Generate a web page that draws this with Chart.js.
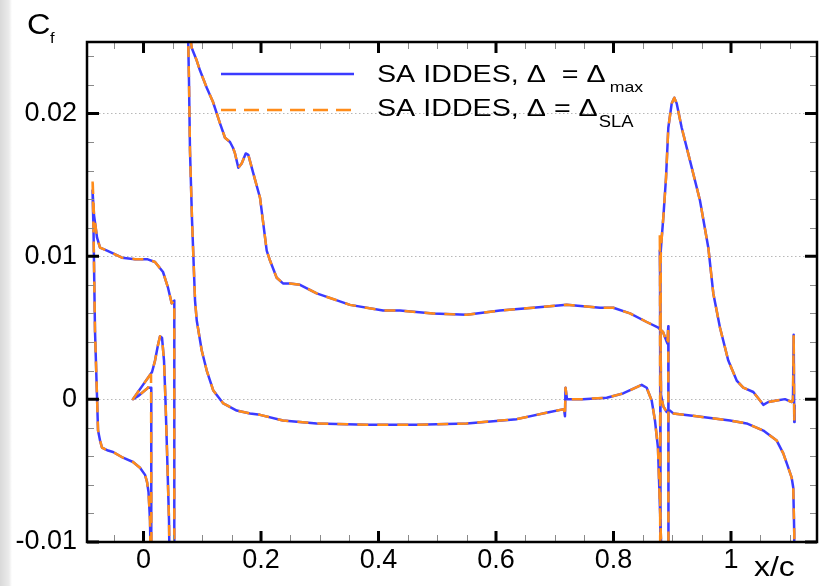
<!DOCTYPE html>
<html>
<head>
<meta charset="utf-8">
<script src="https://cdn.jsdelivr.net/npm/chart.js@4.4.1/dist/chart.umd.min.js"></script>
<style>
    html, body { margin: 0; padding: 0; }
    body { width: 819px; height: 586px; background: linear-gradient(to right, #d9d9d9 0px, #ebebeb 9px, #ffffff 12px); }
    canvas { display: block; }
</style>
</head>
<body>
<canvas id="chart-cf" width="819" height="586"></canvas>
<script>
// axis ticks
const xTicks = [0, 0.2, 0.4, 0.6, 0.8, 1]
const xTickLabels = ['0', '0.2', '0.4', '0.6', '0.8', '1']
const yTicks = [-0.01, 0, 0.01, 0.02]
const yTickLabels = ['-0.01', '0', '0.01', '0.02']
const xMinor = [-0.05, 0.05, 0.1, 0.15, 0.25, 0.3, 0.35, 0.45, 0.5, 0.55, 0.65, 0.7, 0.75, 0.85, 0.9, 0.95, 1.05, 1.1]
const yMinor = [-0.008, -0.006, -0.004, -0.002, 0.002, 0.004, 0.006, 0.008, 0.012, 0.014, 0.016, 0.018, 0.022, 0.024]

// slat: TE -> upper -> LE -> lower -> cove
const slatX = [0.0524, 0.0524, 0.0480, 0.0417, 0.0332, 0.0196, 0.0060, -0.0145, -0.0366, -0.0519,
    -0.0621, -0.0740, -0.0791, -0.0843, -0.0868, -0.0851, -0.0826, -0.0800, -0.0774, -0.0740,
    -0.0706, -0.0604, -0.0519, -0.0349, -0.0179, -0.0060, 0.0026, 0.0060, 0.0085, 0.0111,
    0.0128, 0.0136, 0.0128, 0.0077, -0.0009, -0.0094, -0.0179, -0.0094, -0.0009, 0.0077,
    0.0145, 0.0196, 0.0247, 0.0281, 0.0315, 0.0349, 0.0374, 0.0400, 0.0434, 0.0451]
const slatCfMax = [-0.0140, 0.0069, 0.0067, 0.0078, 0.0089, 0.0096, 0.0098, 0.0098, 0.0099, 0.0102,
    0.0104, 0.0106, 0.0113, 0.0129, 0.0146, 0.0118, 0.0048, 0.0013, -0.0022, -0.0029,
    -0.0034, -0.0036, -0.0037, -0.0041, -0.0044, -0.0048, -0.0053, -0.0058, -0.0065, -0.0085,
    -0.0140, -0.0140, 0.0008, 0.0008, 0.0005, 0.0002, 0.0000, 0.0005, 0.0010, 0.0015,
    0.0019, 0.0027, 0.0038, 0.0044, 0.0043, 0.0027, -0.0001, -0.0036, -0.0085, -0.0140]
const slatCfSla = [-0.0140, 0.0069, 0.0067, 0.0078, 0.0089, 0.0096, 0.0098, 0.0098, 0.0099, 0.0102,
    0.0104, 0.0106, 0.0113, 0.0129, 0.0155, 0.0118, 0.0048, 0.0013, -0.0022, -0.0029,
    -0.0034, -0.0036, -0.0037, -0.0041, -0.0044, -0.0048, -0.0053, -0.0058, -0.0065, -0.0085,
    -0.0140, -0.0140, 0.0017, 0.0008, 0.0005, 0.0002, 0.0000, 0.0005, 0.0010, 0.0015,
    0.0019, 0.0027, 0.0038, 0.0044, 0.0043, 0.0027, -0.0001, -0.0036, -0.0085, -0.0140]

// main element: lower (TE -> LE) then upper (LE -> TE)
const mainX = [0.8826, 0.8809, 0.8757, 0.8706, 0.8650, 0.8565, 0.8480, 0.8162, 0.7884, 0.7481,
    0.7209, 0.7183, 0.7174, 0.7157, 0.6919, 0.6352, 0.5501, 0.4650, 0.3799, 0.2948,
    0.2374, 0.1983, 0.1813, 0.1586, 0.1358, 0.1188, 0.1076, 0.0991, 0.0906, 0.0877,
    0.0826, 0.0791, 0.0774, 0.0757, 0.0791, 0.0820, 0.0848, 0.0906, 0.0962, 0.1076,
    0.1183, 0.1302, 0.1387, 0.1472, 0.1523, 0.1557, 0.1614, 0.1671, 0.1740, 0.1784,
    0.1869, 0.1983, 0.2097, 0.2153, 0.2267, 0.2374, 0.2494, 0.2664, 0.2948, 0.3515,
    0.4077, 0.4366, 0.4928, 0.5501, 0.6068, 0.6630, 0.7203, 0.7770, 0.7997, 0.8281,
    0.8565, 0.8763, 0.8843, 0.8916, 0.8933, 0.8936]
const mainCfMax = [-0.0140, -0.0099, -0.0034, -0.0015, -0.0001, 0.0008, 0.0010, 0.0004, 0.0001, 0.0000,
    0.0000, 0.0008, -0.0012, -0.0007, -0.0009, -0.0014, -0.0017, -0.0018, -0.0018, -0.0017,
    -0.0015, -0.0011, -0.0010, -0.0008, -0.0003, 0.0006, 0.0020, 0.0034, 0.0055, 0.0069,
    0.0125, 0.0174, 0.0223, 0.0258, 0.0255, 0.0246, 0.0243, 0.0237, 0.0230, 0.0218,
    0.0208, 0.0193, 0.0183, 0.0180, 0.0176, 0.0172, 0.0162, 0.0165, 0.0172, 0.0171,
    0.0158, 0.0141, 0.0104, 0.0097, 0.0085, 0.0081, 0.0081, 0.0080, 0.0074, 0.0066,
    0.0062, 0.0062, 0.0060, 0.0059, 0.0062, 0.0064, 0.0066, 0.0064, 0.0064, 0.0060,
    0.0054, 0.0050, 0.0047, 0.0039, 0.0051, -0.0140]
const mainCfSla = [-0.0140, -0.0099, -0.0034, -0.0015, -0.0001, 0.0008, 0.0010, 0.0004, 0.0001, 0.0000,
    0.0000, 0.0008, -0.0012, -0.0007, -0.0009, -0.0014, -0.0017, -0.0018, -0.0018, -0.0017,
    -0.0015, -0.0011, -0.0010, -0.0008, -0.0003, 0.0006, 0.0020, 0.0034, 0.0055, 0.0069,
    0.0125, 0.0174, 0.0223, 0.0260, 0.0256, 0.0246, 0.0243, 0.0237, 0.0230, 0.0218,
    0.0208, 0.0193, 0.0183, 0.0180, 0.0176, 0.0172, 0.0162, 0.0165, 0.0172, 0.0171,
    0.0158, 0.0141, 0.0104, 0.0097, 0.0085, 0.0081, 0.0081, 0.0080, 0.0074, 0.0066,
    0.0062, 0.0062, 0.0060, 0.0059, 0.0062, 0.0064, 0.0066, 0.0064, 0.0064, 0.0060,
    0.0054, 0.0050, 0.0047, 0.0039, 0.0051, -0.0140]

// flap: lower (TE -> LE) then upper (LE -> TE)
const flapX = [1.1089, 1.1077, 1.1060, 1.1033, 1.0975, 1.0890, 1.0778, 1.0550, 1.0267, 0.9983,
    0.9416, 0.9018, 0.8962, 0.8906, 0.8848, 0.8809, 0.8797, 0.8788, 0.8792, 0.8795,
    0.8805, 0.8817, 0.8848, 0.8894, 0.8933, 0.8991, 0.9035, 0.9076, 0.9161, 0.9302,
    0.9472, 0.9614, 0.9699, 0.9813, 0.9954, 1.0097, 1.0209, 1.0380, 1.0494, 1.0550,
    1.0635, 1.0778, 1.0919, 1.1033, 1.1055, 1.1067, 1.1077, 1.1083]
const flapCfMax = [-0.0140, -0.0094, -0.0062, -0.0055, -0.0048, -0.0038, -0.0029, -0.0022, -0.0017, -0.0015,
    -0.0012, -0.0010, -0.0008, -0.0009, -0.0005, 0.0003, 0.0069, 0.0104, 0.0092, -0.0140,
    0.0101, 0.0111, 0.0127, 0.0155, 0.0190, 0.0207, 0.0211, 0.0207, 0.0190, 0.0167,
    0.0139, 0.0106, 0.0074, 0.0050, 0.0027, 0.0013, 0.0008, 0.0005, -0.0001, -0.0004,
    -0.0002, -0.0001, 0.0000, -0.0002, -0.0001, 0.0045, -0.0016, -0.0004]
const flapCfSla = [-0.0140, -0.0094, -0.0062, -0.0055, -0.0048, -0.0038, -0.0029, -0.0022, -0.0017, -0.0015,
    -0.0012, -0.0010, -0.0008, -0.0009, -0.0005, 0.0003, 0.0069, 0.0116, 0.0092, -0.0140,
    0.0101, 0.0111, 0.0127, 0.0155, 0.0190, 0.0207, 0.0211, 0.0207, 0.0190, 0.0167,
    0.0139, 0.0106, 0.0074, 0.0050, 0.0027, 0.0013, 0.0008, 0.0005, -0.0001, -0.0004,
    -0.0002, -0.0001, 0.0000, -0.0002, -0.0001, 0.0045, -0.0016, -0.0004]

const blue = '#3b3bff'
const orange = '#ff8c1a'
const fontFamily = '"Liberation Sans", Arial, Helvetica, sans-serif'

const toPoints = (xs, ys) => xs.map((x, i) => ({ x: x, y: ys[i] }))

const curve = (xs, ys, dashed) => ({
    data: toPoints(xs, ys),
    showLine: true,
    pointRadius: 0,
    borderWidth: 2.5,
    borderColor: dashed ? orange : blue,
    borderDash: dashed ? [11, 9] : [],
    borderJoinStyle: 'round',
    tension: 0,
    order: dashed ? 1 : 2
})

// stretched text, the reference type is a bit wide
const drawText = (ctx, str, x, y, size, sx) => {
    ctx.save()
    ctx.translate(x, y)
    ctx.scale(sx, 1)
    ctx.font = size + 'px ' + fontFamily
    ctx.fillStyle = '#000'
    ctx.textBaseline = 'alphabetic'
    ctx.fillText(str, 0, 0)
    const w = ctx.measureText(str).width * sx
    ctx.restore()
    return w
}

const framePlugin = {
    id: 'frame',
    afterDraw(chart) {
        const { ctx, chartArea: a } = chart
        const x = chart.scales.x
        const y = chart.scales.y

        ctx.save()
        ctx.lineCap = 'butt'

        ctx.strokeStyle = '#8a8a8a'
        ctx.lineWidth = 1
        ctx.beginPath()
        xMinor.forEach(v => {
            const px = Math.round(x.getPixelForValue(v)) + 0.5
            ctx.moveTo(px, a.bottom); ctx.lineTo(px, a.bottom - 7)
            ctx.moveTo(px, a.top); ctx.lineTo(px, a.top + 7)
        })
        yMinor.forEach(v => {
            const py = Math.round(y.getPixelForValue(v)) + 0.5
            ctx.moveTo(a.left, py); ctx.lineTo(a.left + 7, py)
            ctx.moveTo(a.right, py); ctx.lineTo(a.right - 7, py)
        })
        ctx.stroke()

        ctx.strokeStyle = '#000'
        ctx.lineWidth = 3
        ctx.beginPath()
        xTicks.forEach(v => {
            const px = x.getPixelForValue(v)
            ctx.moveTo(px, a.bottom); ctx.lineTo(px, a.bottom - 11)
            ctx.moveTo(px, a.top); ctx.lineTo(px, a.top + 11)
        })
        yTicks.forEach(v => {
            const py = y.getPixelForValue(v)
            ctx.moveTo(a.left, py); ctx.lineTo(a.left + 12, py)
            ctx.moveTo(a.right, py); ctx.lineTo(a.right - 12, py)
        })
        ctx.stroke()

        ctx.lineWidth = 2.5
        ctx.strokeRect(a.left, a.top, a.right - a.left, a.bottom - a.top)

        // axis titles
        drawText(ctx, 'C', 27, 34, 29, 1.12)
        drawText(ctx, 'f', 50, 43, 15, 1.1)
        drawText(ctx, 'x/c', 754, 576, 27, 1.18)

        // legend
        ctx.lineWidth = 2.5
        ctx.strokeStyle = blue
        ctx.beginPath(); ctx.moveTo(221, 74); ctx.lineTo(354, 74); ctx.stroke()
        ctx.strokeStyle = orange
        ctx.setLineDash([15, 8])
        ctx.beginPath(); ctx.moveTo(221, 110); ctx.lineTo(354, 110); ctx.stroke()
        ctx.setLineDash([])

        const w1 = drawText(ctx, 'SA IDDES, \u0394  = \u0394', 377, 82, 23.5, 1.22)
        drawText(ctx, 'max', 377 + w1 + 4, 92, 15, 1.18)
        const w2 = drawText(ctx, 'SA IDDES, \u0394 = \u0394', 377, 116, 23.5, 1.22)
        drawText(ctx, 'SLA', 377 + w2 + 1, 127, 16, 1.15)

        ctx.restore()
    }
}

const chartCf = document.getElementById('chart-cf')

new Chart(chartCf.getContext('2d'), {
    type: 'scatter',
    data: {
        datasets: [
            curve(slatX, slatCfMax, false),
            curve(mainX, mainCfMax, false),
            curve(flapX, flapCfMax, false),
            curve(slatX, slatCfSla, true),
            curve(mainX, mainCfSla, true),
            curve(flapX, flapCfSla, true)
        ]
    },
    options: {
        responsive: false,
        animation: false,
        devicePixelRatio: 1,
        layout: { padding: { left: 0, top: 42, right: 2, bottom: 0 } },
        plugins: {
            legend: { display: false },
            tooltip: { enabled: false }
        },
        scales: {
            x: {
                type: 'linear',
                min: -0.0962,
                max: 1.1464,
                afterBuildTicks: s => { s.ticks = xTicks.map(v => ({ value: v })) },
                afterFit: s => { s.height = 44 },
                grid: { display: false, drawTicks: false },
                border: { display: false },
                ticks: {
                    padding: 2,
                    color: '#000',
                    maxRotation: 0,
                    autoSkip: false,
                    font: { family: fontFamily, size: 27 },
                    callback: (v, i) => xTickLabels[i]
                }
            },
            y: {
                type: 'linear',
                min: -0.01,
                max: 0.025,
                afterBuildTicks: s => { s.ticks = yTicks.map(v => ({ value: v })) },
                afterFit: s => { s.width = 87 },
                grid: { display: true, drawTicks: false, color: '#b8b8b8', lineWidth: 1 },
                border: { display: false, dash: [1.5, 2.5] },
                ticks: {
                    padding: 10,
                    color: '#000',
                    autoSkip: false,
                    font: { family: fontFamily, size: 27 },
                    callback: (v, i) => yTickLabels[i]
                }
            }
        }
    },
    plugins: [framePlugin]
})
</script>
</body>
</html>
